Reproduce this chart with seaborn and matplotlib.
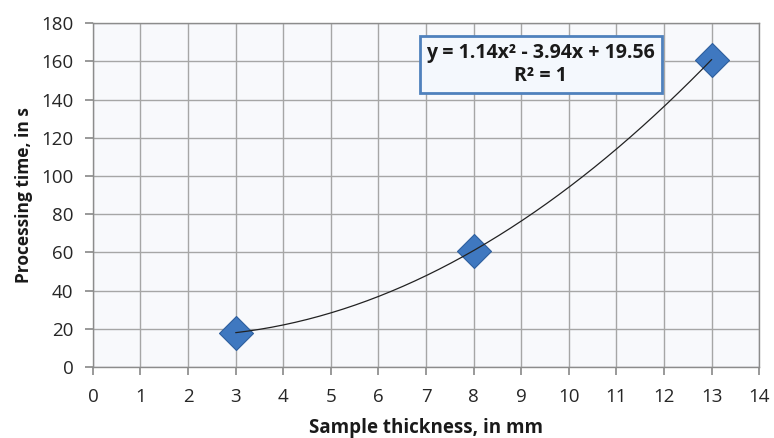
import numpy as np
import pandas as pd
import matplotlib
matplotlib.use("Agg")
import matplotlib.pyplot as plt
import seaborn as sns

thickness = [3, 8, 13]
proc_time = [18, 61, 161]
x_ticks = list(range(0, 15))
y_ticks = list(range(0, 181, 20))
equation = "y = 1.14x² - 3.94x + 19.56\nR² = 1"

sns.set_theme(style="white")
plt.rcParams['font.family'] = ['Open Sans', 'DejaVu Sans']

df = pd.DataFrame({"x": thickness, "y": proc_time})

fig = plt.figure(figsize=(7.74, 4.38), dpi=100)
ax = fig.add_axes([0.120, 0.162, 0.861, 0.785])
ax.set_facecolor("#f8f9fc")

coef = np.polyfit(df["x"], df["y"], 2)
xs = np.linspace(min(thickness), max(thickness), 200)
ys = np.polyval(coef, xs)

sns.scatterplot(data=df, x="x", y="y", ax=ax, marker="D", s=300,
                color="#3f78c0", edgecolor="#2e5f9e", linewidth=0.8, zorder=3)
sns.lineplot(x=xs, y=ys, ax=ax, color="#222222", linewidth=0.9, zorder=4)

ax.set_xlim(0, 14)
ax.set_ylim(0, 180)
ax.set_xticks(x_ticks)
ax.set_yticks(y_ticks)
ax.grid(True, color="#a6a6a6", linewidth=1.0)
ax.set_axisbelow(True)
for s in ax.spines.values():
    s.set_color("#8c8c8c")
    s.set_linewidth(1.0)
ax.tick_params(axis="both", which="both", length=6, color="#8c8c8c",
               labelsize=13.5, labelcolor="#262626", direction="out",
               bottom=True, left=True)
ax.tick_params(axis="x", pad=9)
ax.tick_params(axis="y", pad=8)
ax.set_xlabel("Sample thickness, in mm", fontsize=13.5, fontweight="bold",
              color="#1a1a1a", labelpad=9)
ax.set_ylabel("Processing time, in s", fontsize=12.5, fontweight="bold",
              color="#1a1a1a", labelpad=6)

ax.text(9.41, 158.5, equation, ha="center", va="center", fontsize=14,
        fontweight="bold", color="#1a1a1a", linespacing=1.2, zorder=5,
        bbox=dict(boxstyle="square,pad=0.35", facecolor="#f4f8fd",
                  edgecolor="#4f81bd", linewidth=2))

fig.savefig("out.png", dpi=100)
